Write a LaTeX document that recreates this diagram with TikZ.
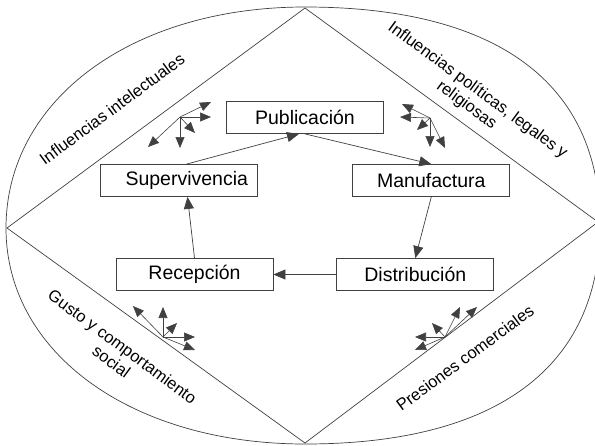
\documentclass[tikz,border=0pt]{standalone}
\usepackage{fontspec}
\setmainfont{Liberation Sans}
\usetikzlibrary{arrows.meta,positioning,calc}

\begin{document}
\begin{tikzpicture}[x=1pt,y=-1pt,
    every node/.style={inner sep=0pt},
    etapa/.style={draw=black!75, line width=0.8pt, minimum width=157pt, minimum height=32pt,
      font=\fontsize{19.5}{22}\selectfont},
    fuerza/.style={font=\fontsize{16.5}{18.5}\selectfont, align=center},
    flecha/.style={-{Triangle[length=12pt,width=10pt]}, draw=black!75, line width=0.7pt},
    influ/.style={-{Triangle[length=11pt,width=9pt]}, draw=black!75, line width=0.6pt}]
  \useasboundingbox (0,0) rectangle (595,445);
  \begin{scope}
    \clip (0,0) rectangle (595,445);
    \coordinate (eN) at (305,7);
    \coordinate (eE) at (600,225);
    \coordinate (eS) at (305,444);
    \coordinate (eW) at (6,228);
    \draw[black!75, line width=0.7pt] (eN) .. controls (497,7) and (600,83) .. (eE)
      .. controls (600,367) and (497,444) .. (eS)
      .. controls (132,444) and (6,353) .. (eW)
      .. controls (6,100) and (132,7) .. (eN);
    \coordinate (arriba) at (305,8);
    \coordinate (izq) at (7,228);
    \coordinate (abajo) at (305,443);
    \coordinate (der) at (598,222);
    \draw[black!75, line width=0.7pt] (arriba) -- (izq) -- (abajo) -- (der) -- cycle;
  \end{scope}

  \node[fuerza, rotate=36.4] (intel) at (112,109) {Influencias intelectuales};
  \node[fuerza, rotate=-36.4] (polit) at (472,98) {Influencias políticas, legales y\\religiosas};
  \node[fuerza, rotate=-36.4] (gusto) at (117,354) {Gusto y comportamiento\\social};
  \node[fuerza, rotate=36.4] (comer) at (465,358) {Presiones comerciales};

  \node[etapa] (pub) at (305,117.5) {Publicación};
  \node[etapa, text width=139pt, align=right] (sup) at (178.5,180.5) {Supervivencia};
  \node[etapa, right=95pt of sup] (man) {Manufactura};
  \node[etapa] (rec) at (194.5,274.5) {Recepción};
  \node[etapa, right=63pt of rec] (dist) {Distribución};

  \draw[flecha] ([xshift=8pt]sup.north) -- ([xshift=-6pt]pub.south);
  \draw[flecha] (pub.south) -- (man.north);
  \draw[flecha] (man.south) -- (dist.north);
  \draw[flecha] (dist.west) -- (rec.east);
  \draw[flecha] (rec.north) -- ([xshift=9pt]sup.south);

  \coordinate (ci) at (180,117);
  \coordinate (cp) at (430,118);
  \coordinate (cg) at (163,337);
  \coordinate (cc) at (445,337);
  \foreach \dx/\dy [count=\k] in {31/-15,31/0,15/16,0/31,-32/30}
    {\coordinate (ci\k) at ($(ci)+(\dx,\dy)$); \draw[influ] (ci) -- (ci\k);}
  \foreach \dx/\dy [count=\k] in {-28/-14,-30/-1,-13/12,0/29,15/30}
    {\coordinate (cp\k) at ($(cp)+(\dx,\dy)$); \draw[influ] (cp) -- (cp\k);}
  \foreach \dx/\dy [count=\k] in {-30/-31,0/-30,14/-14,32/0,32/13}
    {\coordinate (cg\k) at ($(cg)+(\dx,\dy)$); \draw[influ] (cg) -- (cg\k);}
  \foreach \dx/\dy [count=\k] in {-30/0,-30/13,-13/-14,15/-30,32/-30}
    {\coordinate (cc\k) at ($(cc)+(\dx,\dy)$); \draw[influ] (cc) -- (cc\k);}
\end{tikzpicture}
\end{document}
